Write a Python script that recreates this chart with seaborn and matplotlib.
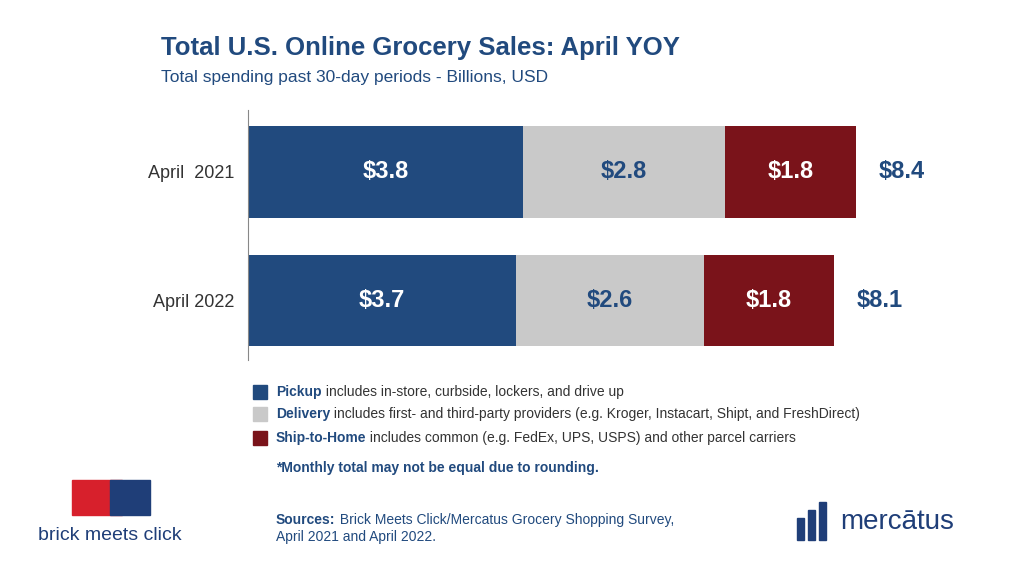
import matplotlib
matplotlib.use("Agg")
import matplotlib.pyplot as plt
import seaborn as sns
import pandas as pd
from matplotlib.patches import Rectangle

periods = ["April  2021", "April 2022"]
pickup = [3.8, 3.7]
delivery = [2.8, 2.6]
ship = [1.8, 1.8]
totals = [8.4, 8.1]
seg_names = ["Pickup", "Delivery", "Ship-to-Home"]
colors = ["#214A7E", "#C9C9C9", "#7A131A"]
label_colors = ["white", "#214A7E", "white"]

sns.set_style("white")
fig = plt.figure(figsize=(10.24, 5.76), dpi=100)
ax = fig.add_axes([0.242, 0.375, 0.742, 0.434])

series = [pickup, delivery, ship]
left = [0.0, 0.0]
for name, vals, c, lc in zip(seg_names, series, colors, label_colors):
    for i, (l, v) in enumerate(zip(left, vals)):
        ax.barh(i, v, left=l, height=0.71, color=c, edgecolor="none")
        ax.text(l + v / 2, i, f"${v:.1f}", ha="center", va="center",
                color=lc, fontsize=17, fontweight="bold", family="Liberation Sans")
    left = [l + v for l, v in zip(left, vals)]
for i, t in enumerate(totals):
    ax.text(left[i] + 0.32, i, f"${t:.1f}", ha="left", va="center",
            color="#214A7E", fontsize=17, fontweight="bold", family="Liberation Sans")

ax.set_xlim(0, 10.5)
ax.set_ylim(1.46, -0.48)
ax.set_yticks([0, 1])
ax.set_yticklabels(periods, fontsize=13, color="#333333", family="Liberation Sans")
ax.tick_params(axis="y", length=0, pad=10)
ax.set_xticks([])
for s in ["top", "right", "bottom"]:
    ax.spines[s].set_visible(False)
ax.spines["left"].set_color("#888888")

fig.text(0.157, 0.905, "Total U.S. Online Grocery Sales: April YOY", fontsize=18.5,
         fontweight="bold", color="#214A7E", family="Liberation Sans")
fig.text(0.157, 0.857, "Total spending past 30-day periods - Billions, USD", fontsize=12.5,
         color="#214A7E", family="Liberation Sans")

legend_rows = [
    ("Pickup", " includes in-store, curbside, lockers, and drive up"),
    ("Delivery", " includes first- and third-party providers (e.g. Kroger, Instacart, Shipt, and FreshDirect)"),
    ("Ship-to-Home", " includes common (e.g. FedEx, UPS, USPS) and other parcel carriers"),
]
ys = [392, 414, 438]
for (b, rest), c, y in zip(legend_rows, colors, ys):
    fy = 1 - y / 576
    fig.patches.append(Rectangle((253 / 1024, fy - 0.012), 14 / 1024, 14 / 576,
                                 transform=fig.transFigure, color=c))
    t = fig.text(276 / 1024, fy, b, fontsize=10, fontweight="bold", color="#214A7E",
                 va="center", family="Liberation Sans")
    fig.canvas.draw()
    bb = t.get_window_extent()
    fig.text(bb.x1 / 1024, fy, rest, fontsize=10, color="#333333", va="center",
             family="Liberation Sans")
fig.text(276 / 1024, 1 - 468 / 576, "*Monthly total may not be equal due to rounding.",
         fontsize=10, fontweight="bold", color="#214A7E", va="center", family="Liberation Sans")

t = fig.text(276 / 1024, 1 - 520 / 576, "Sources:", fontsize=10, fontweight="bold",
             color="#214A7E", va="center", family="Liberation Sans")
fig.canvas.draw()
bb = t.get_window_extent()
fig.text(bb.x1 / 1024, 1 - 520 / 576, " Brick Meets Click/Mercatus Grocery Shopping Survey,",
         fontsize=10, color="#214A7E", va="center", family="Liberation Sans")
fig.text(276 / 1024, 1 - 537 / 576, "April 2021 and April 2022.", fontsize=10,
         color="#214A7E", va="center", family="Liberation Sans")

# logos
fig.patches.append(Rectangle((72 / 1024, 1 - 515 / 576), 50 / 1024, 35 / 576,
                             transform=fig.transFigure, color="#D7202C"))
fig.patches.append(Rectangle((110 / 1024, 1 - 515 / 576), 40 / 1024, 35 / 576,
                             transform=fig.transFigure, color="#1F3E78"))
fig.text(38 / 1024, 1 - 535 / 576, "brick meets click", fontsize=14, color="#1F3E78",
         va="center", family="Liberation Sans")
for k, h in enumerate([22, 30, 38]):
    fig.patches.append(Rectangle(((797 + k * 11) / 1024, 1 - 540 / 576), 7 / 1024, h / 576,
                                 transform=fig.transFigure, color="#1F3E78"))
fig.text(840 / 1024, 1 - 522 / 576, "mercātus", fontsize=20, color="#1F3E78",
         va="center", family="Liberation Sans")

fig.savefig("out.png", dpi=100)
